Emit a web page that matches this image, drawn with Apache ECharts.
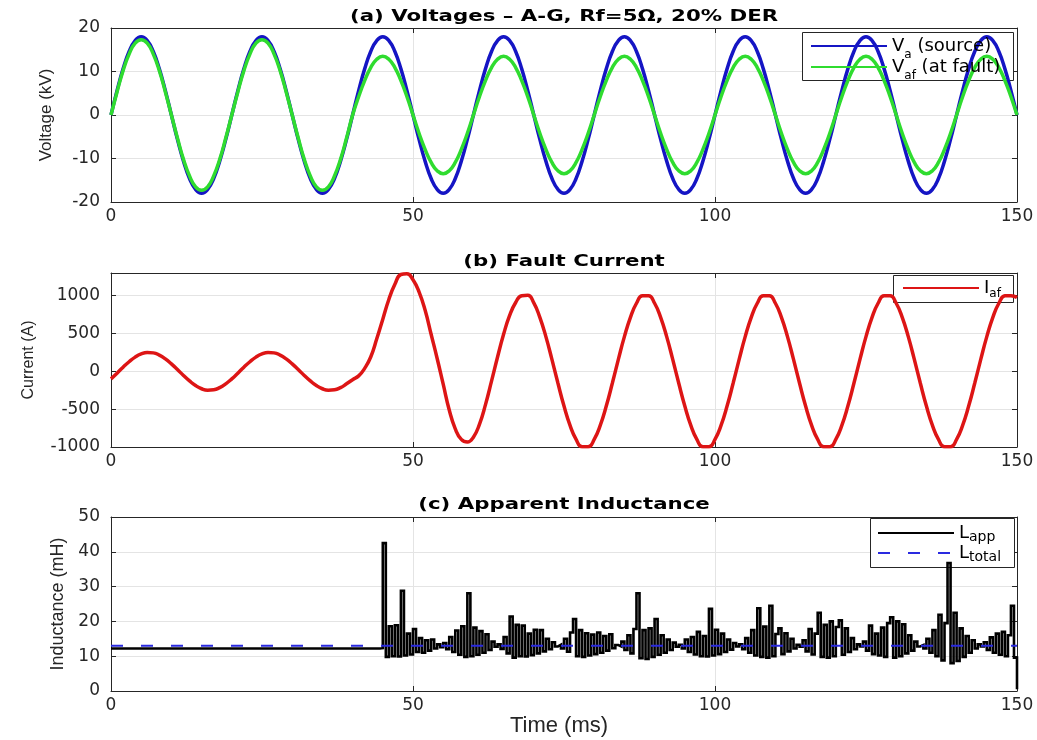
<!DOCTYPE html>
<html><head><meta charset="utf-8">
<script src="https://cdn.jsdelivr.net/npm/echarts/dist/echarts.min.js"></script>
<style>html,body{margin:0;padding:0;background:#fff}#c{width:1037px;height:740px}</style>
</head><body><div id="c"></div>
<script>
// ---------- data ----------
const timeStepMs = 1;           // spacing of voltage / current samples (ms)

// (a) source voltage Va, kV, t = 0..150 ms
const vaSource = [
  0, 5.6, 10.6, 14.6, 17.1, 18, 17.1, 14.6, 10.6, 5.6, 0, -5.6, -10.6, -14.6, -17.1, -18, -17.1, -14.6, -10.6, -5.6,
  0, 5.6, 10.6, 14.6, 17.1, 18, 17.1, 14.6, 10.6, 5.6, 0, -5.6, -10.6, -14.6, -17.1, -18, -17.1, -14.6, -10.6, -5.6,
  0, 5.6, 10.6, 14.6, 17.1, 18, 17.1, 14.6, 10.6, 5.6, 0, -5.6, -10.6, -14.6, -17.1, -18, -17.1, -14.6, -10.6, -5.6,
  0, 5.6, 10.6, 14.6, 17.1, 18, 17.1, 14.6, 10.6, 5.6, 0, -5.6, -10.6, -14.6, -17.1, -18, -17.1, -14.6, -10.6, -5.6,
  0, 5.6, 10.6, 14.6, 17.1, 18, 17.1, 14.6, 10.6, 5.6, 0, -5.6, -10.6, -14.6, -17.1, -18, -17.1, -14.6, -10.6, -5.6,
  0, 5.6, 10.6, 14.6, 17.1, 18, 17.1, 14.6, 10.6, 5.6, 0, -5.6, -10.6, -14.6, -17.1, -18, -17.1, -14.6, -10.6, -5.6,
  0, 5.6, 10.6, 14.6, 17.1, 18, 17.1, 14.6, 10.6, 5.6, 0, -5.6, -10.6, -14.6, -17.1, -18, -17.1, -14.6, -10.6, -5.6,
  0, 5.6, 10.6, 14.6, 17.1, 18, 17.1, 14.6, 10.6, 5.6, 0
];

// (a) voltage at the fault point Vaf, kV, t = 0..150 ms
const vaFault = [
  0, 5.3, 10.2, 14.0, 16.5, 17.3, 16.5, 14.0, 10.2, 5.3, 0, -5.3, -10.2, -14.0, -16.5, -17.3, -16.5, -14.0, -10.2, -5.3,
  0, 5.3, 10.2, 14.0, 16.5, 17.3, 16.5, 14.0, 10.2, 5.3, 0, -5.3, -10.2, -14.0, -16.5, -17.3, -16.5, -14.0, -10.2, -5.3,
  0, 4.2, 7.9, 10.9, 12.8, 13.5, 12.8, 10.9, 7.9, 4.2, 0, -4.2, -7.9, -10.9, -12.8, -13.5, -12.8, -10.9, -7.9, -4.2,
  0, 4.2, 7.9, 10.9, 12.8, 13.5, 12.8, 10.9, 7.9, 4.2, 0, -4.2, -7.9, -10.9, -12.8, -13.5, -12.8, -10.9, -7.9, -4.2,
  0, 4.2, 7.9, 10.9, 12.8, 13.5, 12.8, 10.9, 7.9, 4.2, 0, -4.2, -7.9, -10.9, -12.8, -13.5, -12.8, -10.9, -7.9, -4.2,
  0, 4.2, 7.9, 10.9, 12.8, 13.5, 12.8, 10.9, 7.9, 4.2, 0, -4.2, -7.9, -10.9, -12.8, -13.5, -12.8, -10.9, -7.9, -4.2,
  0, 4.2, 7.9, 10.9, 12.8, 13.5, 12.8, 10.9, 7.9, 4.2, 0, -4.2, -7.9, -10.9, -12.8, -13.5, -12.8, -10.9, -7.9, -4.2,
  0, 4.2, 7.9, 10.9, 12.8, 13.5, 12.8, 10.9, 7.9, 4.2, 0
];

// (b) fault current Iaf, A, t = 0..150 ms
const faultCurrent = [
  -99, -24, 55, 127, 188, 230, 249, 244, 215, 165, 99, 24, -55, -127, -188, -230, -249, -244, -215, -165,
  -99, -24, 55, 127, 188, 230, 249, 244, 215, 165, 99, 24, -55, -127, -188, -230, -249, -244, -215, -165,
  -110, -60, 40, 190, 430, 690, 950, 1150, 1280, 1290, 1210, 1050, 810, 490, 170, -170, -510, -760, -900, -935,
  -870, -700, -440, -130, 190, 490, 740, 910, 1000, 1005, 905, 714, 459, 158, -158, -459, -714, -900, -998, -998,
  -900, -714, -459, -158, 158, 459, 714, 900, 998, 998, 900, 714, 459, 158, -158, -459, -714, -900, -998, -998,
  -900, -714, -459, -158, 158, 459, 714, 900, 998, 998, 900, 714, 459, 158, -158, -459, -714, -900, -998, -998,
  -900, -714, -459, -158, 158, 459, 714, 900, 998, 998, 900, 714, 459, 158, -158, -459, -714, -900, -998, -998,
  -900, -714, -459, -158, 158, 459, 714, 900, 998, 1000, 975
];

// (c) apparent inductance, mH
const lAppPreFault = 12.2;      // flat value from 0 ms until the fault
const lAppFaultStartMs = 44.5;  // first noisy sample
const lAppFaultStepMs = 0.5;    // spacing of noisy samples
const lAppFault = [
  12.3, 42.5, 9.8, 18.6, 10.0, 18.9, 9.9, 28.8, 10.2, 16.5, 10.5, 17.8, 11.2, 15.2, 11.0, 14.6, 11.6, 14.8, 12.2, 13.4,
  12.6, 13.8, 12.0, 15.5, 11.2, 17.4, 10.4, 18.6, 9.8, 28.1, 10.0, 18.2, 10.4, 17.2, 11.0, 16.3, 11.8, 14.2, 12.7,
  13.4, 12.1, 15.5, 10.8, 21.4, 9.6, 19.0, 10.0, 18.8, 9.9, 16.5, 10.3, 17.6, 10.8, 17.5, 11.4, 15.0, 12.0, 14.0, 12.8,
  13.3, 12.2, 15.0, 11.3, 16.8, 20.7, 10.0, 17.5, 9.8, 16.6, 10.2, 16.2, 10.6, 16.8, 11.0, 15.8, 11.6, 16.3, 12.3, 13.2,
  12.8, 14.2, 11.8, 16.0, 10.8, 17.8, 28.1, 9.4, 17.5, 9.2, 18.0, 9.8, 20.7, 10.4, 16.0, 11.0, 14.8, 11.8, 13.9, 12.7,
  13.3, 12.2, 14.8, 11.2, 15.5, 10.5, 17.0, 10.0, 15.8, 9.9, 23.6, 10.2, 17.6, 10.6, 16.5, 11.2, 14.8, 11.9, 13.8, 12.8,
  13.4, 12.0, 15.2, 11.0, 17.5, 10.2, 23.8, 9.8, 18.5, 9.6, 24.5, 10.0, 16.4, 18.0, 10.6, 16.6, 11.4, 15.0, 12.2, 13.3,
  12.7, 14.6, 11.4, 17.8, 10.5, 16.5, 22.5, 9.8, 19.0, 9.6, 20.0, 10.0, 18.4, 20.3, 10.4, 18.0, 11.2, 15.2, 12.0, 13.4,
  12.8, 14.2, 11.6, 18.8, 10.6, 16.5, 10.2, 18.2, 9.8, 19.5, 21.2, 9.6, 20.0, 10.0, 19.2, 10.8, 16.0, 11.6, 14.2, 12.8,
  13.2, 12.2, 15.0, 11.0, 17.5, 10.0, 21.9, 8.8, 19.5, 36.8, 8.0, 22.5, 8.6, 18.0, 9.8, 15.8, 11.0, 14.6, 12.2, 13.4,
  12.8, 14.0, 11.8, 15.4, 11.0, 16.5, 10.4, 17.0, 10.0, 16.0, 24.5, 9.6, 0.5
];
const lTotal = 13;              // expected total inductance, mH

// axes
const timeRange = [0, 150];
const timeInterval = 50;
const voltageRange = [-20, 20];
const voltageInterval = 10;
const currentRange = [-1000, 1300];
const currentInterval = 500;
const inductanceRange = [0, 50];
const inductanceInterval = 10;

const panelTitles = ['(a) Voltages \u2013 A-G, Rf=5\u03A9, 20% DER', '(b) Fault Current', '(c) Apparent Inductance'];
const yAxisNames = ['Voltage (kV)', 'Current (A)', 'Inductance (mH)'];
const xAxisName = 'Time (ms)';
const seriesNames = ['Va', 'Vaf', 'Iaf', 'Lapp', 'Ltotal'];
const legendLabels = {
  Va: '{m|V}{s|a}{m| (source)}',
  Vaf: '{m|V}{s|af}{m| (at fault)}',
  Iaf: '{m|I}{s|af}',
  Lapp: '{m|L}{s|app}',
  Ltotal: '{m|L}{s|total}'
};

// ---------- build option ----------
const toPairs = arr => arr.map((v, i) => [i * timeStepMs, v]);
const lAppData = [[timeRange[0], lAppPreFault]].concat(
  lAppFault.map((v, i) => [lAppFaultStartMs + i * lAppFaultStepMs, v]));

const AX = '#262626';
const GRIDC = '#e4e4e4';
const tickFont = {fontFamily: 'DejaVu Sans', fontSize: 17, color: AX, formatter: v => String(v)};
const grids = [
  {left: 111, right: 20, top: 28, height: 174},
  {left: 111, right: 20, top: 273, height: 174},
  {left: 111, right: 20, top: 517, height: 174}
];
const yRanges = [
  [voltageRange, voltageInterval],
  [currentRange, currentInterval],
  [inductanceRange, inductanceInterval]
];
const yNameGaps = [56, 74, 43];
const yNameSizes = [17, 16, 18];

const xAxes = [], yAxes = [];
for (let g = 0; g < 3; g++) {
  xAxes.push({
    type: 'value', gridIndex: g, position: 'bottom',
    min: timeRange[0], max: timeRange[1], interval: timeInterval,
    axisLine: {show: true, onZero: false, lineStyle: {color: AX, width: 1}},
    axisTick: {show: true, inside: true, length: 5, lineStyle: {color: AX}},
    axisLabel: Object.assign({margin: 6}, tickFont),
    splitLine: {show: true, lineStyle: {color: GRIDC, width: 1}},
    name: g === 2 ? xAxisName : '',
    nameLocation: 'middle', nameGap: 18,
    nameTextStyle: {fontFamily: 'Liberation Sans', fontSize: 22, color: AX, padding: [0, 10, 0, 0]}
  });
  xAxes.push({
    type: 'value', gridIndex: g, position: 'top',
    min: timeRange[0], max: timeRange[1], interval: timeInterval,
    axisLine: {show: true, onZero: false, lineStyle: {color: AX, width: 1}},
    axisTick: {show: true, inside: true, length: 5, lineStyle: {color: AX}},
    axisLabel: {show: false}, splitLine: {show: false}
  });
  const [rng, itv] = yRanges[g];
  yAxes.push({
    type: 'value', gridIndex: g, position: 'left',
    min: rng[0], max: rng[1], interval: itv,
    axisLine: {show: true, onZero: false, lineStyle: {color: AX, width: 1}},
    axisTick: {show: true, inside: true, length: 5, lineStyle: {color: AX}},
    axisLabel: Object.assign({margin: 11, showMaxLabel: g !== 1}, tickFont),
    splitLine: {show: true, lineStyle: {color: GRIDC, width: 1}},
    name: yAxisNames[g], nameLocation: 'middle', nameRotate: 90, nameGap: yNameGaps[g],
    nameTextStyle: {fontFamily: 'Liberation Sans', fontSize: yNameSizes[g], color: AX}
  });
  yAxes.push({
    type: 'value', gridIndex: g, position: 'right',
    min: rng[0], max: rng[1], interval: itv,
    axisLine: {show: true, onZero: false, lineStyle: {color: AX, width: 1}},
    axisTick: {show: true, inside: true, length: 5, lineStyle: {color: AX}},
    axisLabel: {show: false}, splitLine: {show: false}
  });
}

const lineBase = {type: 'line', symbol: 'none', showSymbol: false, animation: false};
const series = [
  Object.assign({}, lineBase, {name: seriesNames[0], xAxisIndex: 0, yAxisIndex: 0, smooth: true,
    data: toPairs(vaSource), lineStyle: {color: '#1515c4', width: 3.5}, itemStyle: {color: '#1515c4'}}),
  Object.assign({}, lineBase, {name: seriesNames[1], xAxisIndex: 0, yAxisIndex: 0, smooth: true,
    data: toPairs(vaFault), lineStyle: {color: '#2fdc2f', width: 3.5}, itemStyle: {color: '#2fdc2f'}}),
  Object.assign({}, lineBase, {name: seriesNames[2], xAxisIndex: 2, yAxisIndex: 2, smooth: true,
    data: toPairs(faultCurrent), lineStyle: {color: '#dd1515', width: 3.5}, itemStyle: {color: '#dd1515'}}),
  Object.assign({}, lineBase, {name: seriesNames[3], xAxisIndex: 4, yAxisIndex: 4, step: 'end',
    data: lAppData, lineStyle: {color: '#000000', width: 2.6, join: 'miter'}, itemStyle: {color: '#000000'}}),
  Object.assign({}, lineBase, {name: seriesNames[4], xAxisIndex: 4, yAxisIndex: 4,
    data: [[timeRange[0], lTotal], [timeRange[1], lTotal]],
    lineStyle: {color: '#2a2ae0', width: 2, type: [12, 18]}, itemStyle: {color: '#2a2ae0'}})
];

function legendCfg(names, left, top, lineH, gap, subSize) {
  return {
    data: names, orient: 'vertical', left: left, top: top, padding: 0,
    itemWidth: 76, itemHeight: 10, itemGap: gap, selectedMode: false,
    lineStyle: {width: 2},
    itemStyle: {opacity: 0, borderWidth: 0},
    formatter: n => legendLabels[n],
    textStyle: {
      fontFamily: 'DejaVu Sans', fontSize: 18, color: '#000', lineHeight: lineH,
      rich: {
        m: {fontFamily: 'DejaVu Sans', fontSize: 18, color: '#000', lineHeight: lineH},
        s: {fontFamily: 'DejaVu Sans', fontSize: subSize, color: '#000', lineHeight: subSize, verticalAlign: 'bottom'}
      }
    },
    z: 5
  };
}

const legendBoxes = [
  {x: 802, y: 32, w: 211, h: 48},
  {x: 893, y: 275, w: 120, h: 27},
  {x: 870, y: 518, w: 144, h: 49}
];
const titleY = [17, 262, 505];
const graphicEls = [];
legendBoxes.forEach(b => graphicEls.push({
  type: 'rect', z: 3, shape: {x: b.x + 0.5, y: b.y + 0.5, width: b.w, height: b.h},
  style: {fill: '#fff', stroke: AX, lineWidth: 1}
}));
panelTitles.forEach((t, i) => graphicEls.push({
  type: 'text', z: 5, x: 564, y: titleY[i], scaleX: 1.42, scaleY: 1,
  style: {text: t, fontFamily: 'DejaVu Sans', fontWeight: 'bold', fontSize: 15, fill: '#000',
    textAlign: 'center', textVerticalAlign: 'middle', align: 'center', verticalAlign: 'middle'}
}));

const option = {
  animation: false,
  backgroundColor: '#ffffff',
  grid: grids,
  xAxis: xAxes,
  yAxis: yAxes,
  legend: [
    legendCfg(['Va', 'Vaf'], 810, 31, 30, -9, 12),
    legendCfg(['Iaf'], 902, 276, 24, 0, 12),
    legendCfg(['Lapp', 'Ltotal'], 877, 522, 22, -2, 14)
  ],
  graphic: {elements: graphicEls},
  series: series
};

const chart = echarts.init(document.getElementById('c'), null, {renderer: 'canvas'});
chart.setOption(option);
</script></body></html>
